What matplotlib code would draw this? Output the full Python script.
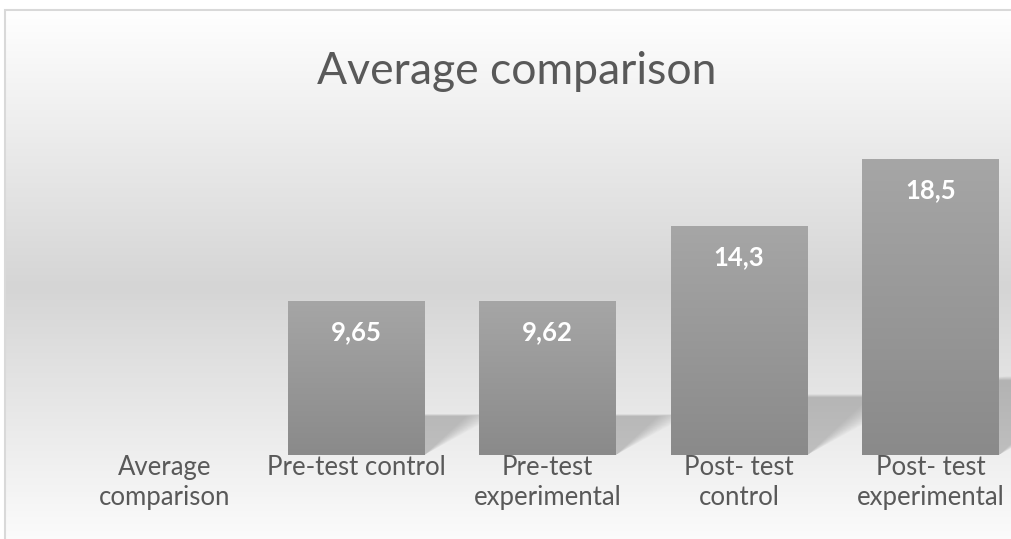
import numpy as np
import matplotlib
matplotlib.use("Agg")
import matplotlib.pyplot as plt
from matplotlib.patches import Polygon
from matplotlib.colors import LinearSegmentedColormap

# ---------------- data ----------------
categories = ["Average\ncomparison", "Pre-test control", "Pre-test\nexperimental",
              "Post- test\ncontrol", "Post- test\nexperimental"]
values = [0.0, 9.65, 9.62, 14.3, 18.5]
value_labels = ["", "9,65", "9,62", "14,3", "18,5"]
title = "Average comparison"

W, H = 1011, 539
fig = plt.figure(figsize=(W / 100, H / 100), dpi=100)
fig.patch.set_facecolor("white")

# ---------------- background (chart area with gradient + border) ----------------
bg = fig.add_axes([0, 0, 1, 1], zorder=0)
bg.set_xlim(0, W)
bg.set_ylim(H, 0)
bg.axis("off")
yy = np.linspace(0, 1, 400)[:, None]
grad_cmap = LinearSegmentedColormap.from_list(
    "bg", [(0.0, "#ffffff"), (0.5, "#d5d5d5"), (1.0, "#ffffff")])
bg.imshow(grad_cmap(yy * np.ones((1, 2))), extent=[5, W + 20, 565, 10],
          aspect="auto", interpolation="bilinear", zorder=0)
bg.plot([5, 5, W + 20], [H + 20, 10, 10], color="#d9d9d9", lw=1.5,
        solid_joinstyle="miter", zorder=1)

# ---------------- main axes ----------------
ax_left = 68.75 / W
ax_w = 957.5 / W
ax_bottom = 84 / H
ax_h = 320 / H
ax = fig.add_axes([ax_left, ax_bottom, ax_w, ax_h], zorder=1)
ax.patch.set_alpha(0)
for s in ax.spines.values():
    s.set_visible(False)
ax.set_yticks([])

x = np.arange(len(categories))
bars = ax.bar(x, values, width=0.715, color="none", edgecolor="none", zorder=3)

# soft perspective shadows
for b, v in zip(bars, values):
    if v <= 0:
        continue
    x0 = b.get_x()
    x1 = x0 + b.get_width()
    rise = 0.26 * v
    dxs = 0.0326 * v
    for f in np.linspace(0.7, 1.25, 24):
        r = rise * (0.9 + 0.1 * f)
        d = dxs * f
        poly = Polygon([(x0, 0), (x1, 0), (x1 + d, r), (x0 + d, r)],
                       closed=True, facecolor="#303030", edgecolor="none",
                       alpha=0.009, zorder=2, clip_on=False)
        ax.add_patch(poly)

# gradient bars
bar_cmap = LinearSegmentedColormap.from_list("bar", ["#8a8a8a", "#a6a6a6"])
grad = np.linspace(0, 1, 256)[:, None]
for b, v in zip(bars, values):
    if v <= 0:
        continue
    x0 = b.get_x()
    x1 = x0 + b.get_width()
    im = ax.imshow(grad, cmap=bar_cmap, origin="lower",
                   extent=[x0, x1, 0, v], aspect="auto", zorder=3,
                   interpolation="bilinear")
    im.set_clip_path(b)
ax.set_xlim(-0.5, 4.5)
ax.set_ylim(0, 20)

# data labels
for b, v, lab in zip(bars, values, value_labels):
    if not lab:
        continue
    ax.annotate(lab, (b.get_x() + b.get_width() / 2, v), xytext=(0, -22.5),
                textcoords="offset points", ha="center", va="center",
                color="white", fontsize=18.5, fontweight="bold",
                family="Lato", zorder=5)

# tick labels
ax.set_xticks(x)
ax.set_xticklabels(categories, fontsize=18.5, color="#595959", family="Lato",
                   linespacing=1.27)
ax.tick_params(axis="x", length=0, pad=0)

# title
fig.text(516.5 / W, 1 - 71 / H, title, ha="center", va="center",
         fontsize=32, color="#595959", family="Lato", fontweight="normal")

fig.savefig("out.png", dpi=100, facecolor="white")
